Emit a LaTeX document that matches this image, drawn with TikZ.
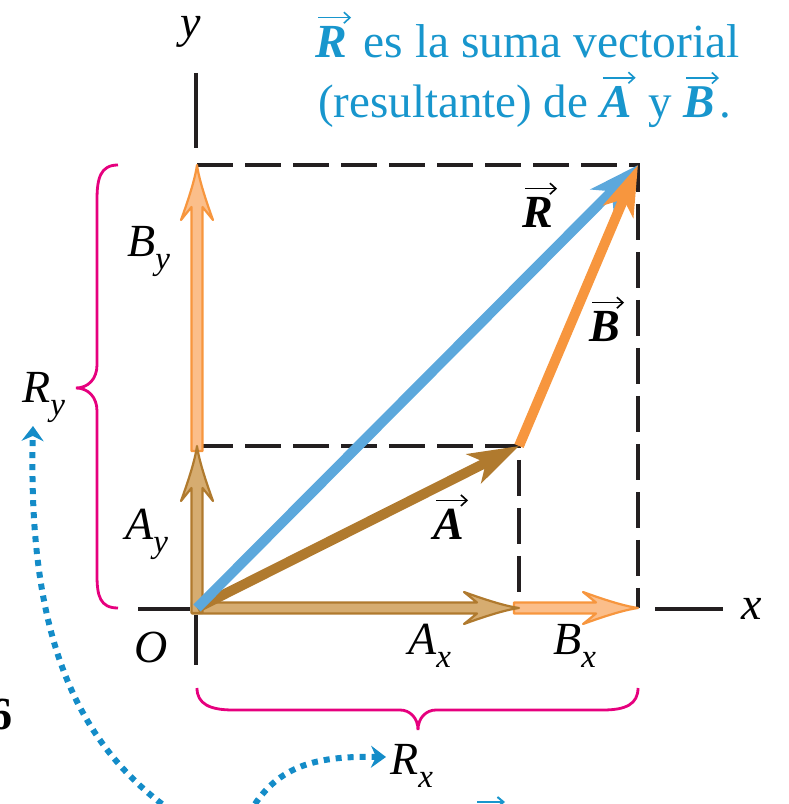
\documentclass[tikz,border=0pt]{standalone}
\usepackage{fontspec}
\setmainfont{Liberation Serif}
\usetikzlibrary{arrows.meta}
\definecolor{rblue}{RGB}{92,168,220}
\definecolor{tblue}{RGB}{24,150,205}
\definecolor{borange}{RGB}{247,150,62}
\definecolor{abrown}{RGB}{176,122,46}
\definecolor{afill}{RGB}{214,172,112}
\definecolor{bfill}{RGB}{251,190,138}
\definecolor{bracecol}{RGB}{230,0,126}
\definecolor{dashcol}{RGB}{35,31,32}
\definecolor{dotblue}{RGB}{20,140,200}
\newcommand\cmp[2]{\textit{#1}\raisebox{-0.27em}{\fontsize{33}{33}\selectfont\textit{#2}}}
\newcommand\vvec[1]{\tikz[baseline=(vv.base)]{\node[inner sep=0pt, anchor=base west] (vv) at (0,0) {\bfseries\itshape #1};
  \draw[line width=1.6pt, -{Straight Barb[length=6pt,width=11pt]}] ([xshift=3pt,yshift=9pt]vv.north west) -- ([xshift=4pt,yshift=9pt]vv.north east);}}
\tikzset{
  lbl/.style={inner sep=0pt, anchor=base west},
  dashline/.style={draw=dashcol, line width=4.5pt, dash pattern=on 36pt off 12pt},
  axisline/.style={draw=dashcol, line width=4.5pt},
  vecarrow/.style={line width=10pt, -{Stealth[length=50pt,width=32pt,inset=13pt]}},
  bracepath/.style={draw=bracecol, line width=2.8pt},
  dotarrow/.style={draw=dotblue, line width=6pt, dash pattern=on 6pt off 6pt, -{Stealth[length=15pt,width=22pt,inset=5pt]}},
  pics/comparrow/.style args={#1/#2/#3}{code={
    \filldraw[draw=#2, fill=#3, line width=2.2pt, line join=round]
      (-5,-5.5) -- ({#1-42},-5.5) -- ({#1-55},-16)
      .. controls ({#1-33},-8) and ({#1-14},-2) .. (#1,0)
      .. controls ({#1-14},2) and ({#1-33},8) .. ({#1-55},16)
      -- ({#1-42},5.5) -- (-5,5.5) -- cycle;
  }}
}
\begin{document}
\begin{tikzpicture}[x=1pt, y=1pt, font=\fontsize{46}{55}\selectfont]
\useasboundingbox (0,0) rectangle (788,804);
\clip (0,0) rectangle (788,804);
\coordinate (O) at (197,196);
\coordinate (Atip) at (519,358);
\coordinate (Btip) at (638,639);
\coordinate (Axe) at (519,196);
\coordinate (Aye) at (197,358);
% dashed construction lines
\draw[dashline] (197,639) -- (638,639) -- (638,196);
\draw[dashline] (197,358) -- (519,358) -- (519,204);
% axes
\draw[axisline] (196,731) -- (196,656);
\draw[axisline] (196,189) -- (196,139);
\draw[axisline] (138,195) -- (190,195);
\draw[axisline] (655,195) -- (723,195);
% component arrows
\path (Axe) pic {comparrow={119/borange/bfill}};
\path (O) pic {comparrow={322/abrown/afill}};
\path (Aye) pic[rotate=90] {comparrow={281/borange/bfill}};
\path (O) pic[rotate=90] {comparrow={162/abrown/afill}};
% vectors
\draw[vecarrow, abrown] (O) -- (Atip);
\draw[vecarrow, rblue] (O) -- (Btip);
\draw[vecarrow, borange] (Atip) -- (Btip);
% braces
\draw[bracepath] (118,639) .. controls (100,639) and (97,625) .. (97,604) -- (97,439)
  .. controls (97,425) and (88,416) .. (76,416) .. controls (88,416) and (97,407) .. (97,393)
  -- (97,229) .. controls (97,208) and (100,196) .. (118,196);
\draw[bracepath] (197,116) .. controls (197,100) and (210,94) .. (233,94) -- (400,94)
  .. controls (410,94) and (418,86) .. (418,74) .. controls (418,86) and (426,94) .. (436,94)
  -- (603,94) .. controls (626,94) and (638,100) .. (638,116);
% dotted arrows
\coordinate (d1s) at (162,0);
\coordinate (d1e) at (33,378);
\coordinate (d2s) at (255,0);
\coordinate (d2e) at (386,47);
\draw[dotarrow] (d1s) .. controls (70,70) and (28,180) .. (d1e);
\draw[dotarrow] (d2s) .. controls (282,40) and (320,48) .. (d2e);
% labels
\node[lbl] (ly) at (180,766) {\textit{y}};
\node[lbl] (lx) at (741,184) {\textit{x}};
\node[lbl] (lO) at (134,141) {\textit{O}};
\node[lbl] (lBy) at (127,547) {\cmp{B}{y}};
\node[lbl] (lAy) at (125,264) {\cmp{A}{y}};
\node[lbl] (lRy) at (22,401) {\cmp{R}{y}};
\node[lbl] (lAx) at (408,149) {\cmp{A}{x}};
\node[lbl] (lBx) at (553,149) {\cmp{B}{x}};
\node[lbl] (lRx) at (390,29) {\cmp{R}{x}};
\node[lbl] (vR) at (522,576) {\vvec{R}};
\node[lbl] (vB) at (589,462) {\vvec{B}};
\node[lbl] (vA) at (433,264) {\vvec{A}};
\node[lbl, text=tblue, font=\fontsize{47.5}{55}\selectfont] (t1) at (315,746) {\vvec{R} es la suma vectorial};
\node[lbl, text=tblue, font=\fontsize{47}{55}\selectfont] (t2) at (318,686) {(resultante) de \vvec{A} y \vvec{B}.};
% cut-off fragments at the edges
\node[inner sep=0pt, anchor=base east] (six) at (13,74) {\bfseries 6};
\coordinate (fa) at (477,2);
\coordinate (fb) at (505,2);
\draw[draw=tblue, line width=2pt, -{Straight Barb[length=6pt,width=10pt]}] (fa) -- (fb);
\end{tikzpicture}
\end{document}
